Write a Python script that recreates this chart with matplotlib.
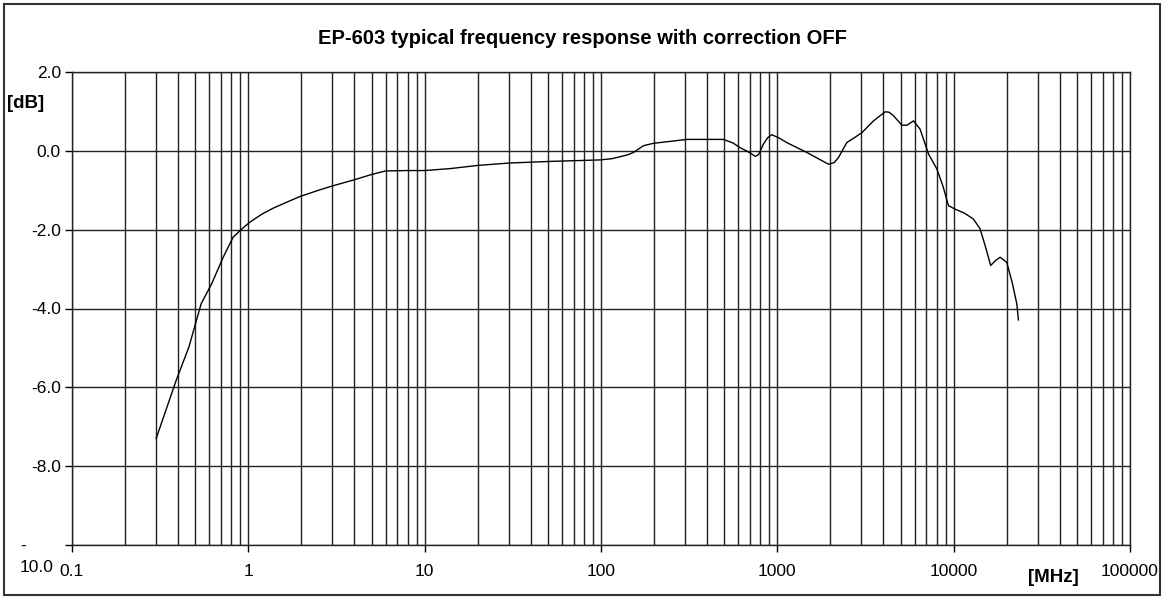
import matplotlib
matplotlib.use("Agg")
import matplotlib.pyplot as plt
from matplotlib.patches import Rectangle
from matplotlib.ticker import FixedLocator, LogLocator, NullFormatter

freq_mhz = [0.30, 0.39, 0.46, 0.54, 0.62, 0.72, 0.82, 0.92, 1.02, 1.2, 1.39, 1.6, 1.96,
            2.5, 3.0, 3.95, 5.0, 6.0, 8.0, 10, 14, 20, 30, 50, 99, 115, 128, 142, 153,
            165, 174, 198, 247, 306, 494, 560, 615, 700, 748, 781, 834, 880, 929, 1030,
            1130, 1468, 1950, 2100, 2222, 2478, 2750, 3015, 3510, 4090, 4300, 4560,
            5085, 5430, 5920, 6450, 7200, 8030, 8700, 9340, 10190, 11500, 12940, 14130,
            15300, 16200, 17300, 18350, 20000, 21500, 22800, 23300]
resp_db = [-7.30, -5.82, -4.98, -3.88, -3.37, -2.70, -2.19, -1.98, -1.81, -1.60, -1.45,
           -1.33, -1.16, -1.00, -0.89, -0.74, -0.60, -0.51, -0.50, -0.50, -0.45, -0.37,
           -0.31, -0.27, -0.23, -0.20, -0.15, -0.10, -0.04, 0.06, 0.13, 0.19, 0.24,
           0.29, 0.29, 0.20, 0.08, -0.05, -0.14, -0.10, 0.17, 0.33, 0.41, 0.32, 0.21,
           -0.04, -0.34, -0.30, -0.17, 0.21, 0.34, 0.46, 0.76, 0.99, 0.98, 0.89, 0.65,
           0.65, 0.76, 0.55, -0.08, -0.46, -0.90, -1.39, -1.48, -1.58, -1.73, -1.98,
           -2.50, -2.91, -2.78, -2.70, -2.83, -3.35, -3.88, -4.29]

x_ticks = [0.1, 1, 10, 100, 1000, 10000, 100000]
x_tick_labels = ["0.1", "1", "10", "100", "1000", "10000", "100000"]
y_ticks = [-10, -8, -6, -4, -2, 0, 2]
y_tick_labels = ["", "-8.0", "-6.0", "-4.0", "-2.0", "0.0", "2.0"]

plt.rcParams['font.family'] = ['Liberation Sans', 'DejaVu Sans']

W, H = 1164, 599
fig = plt.figure(figsize=(W / 100, H / 100), dpi=100)
ax = fig.add_axes([72 / W, 1 - 545 / H, (1130 - 72) / W, (545 - 72) / H])

ax.set_xscale('log')
ax.set_xlim(0.1, 100000)
ax.set_ylim(-10, 2)

ax.xaxis.set_major_locator(FixedLocator(x_ticks))
ax.set_xticklabels(x_tick_labels)
ax.xaxis.set_minor_locator(LogLocator(base=10, subs=range(2, 10), numticks=20))
ax.xaxis.set_minor_formatter(NullFormatter())
ax.set_yticks(y_ticks)
ax.set_yticklabels(y_tick_labels)

grid_col = '#222222'
ax.grid(True, which='major', axis='both', color=grid_col, lw=1.0)
ax.grid(True, which='minor', axis='x', color=grid_col, lw=1.0)
ax.tick_params(axis='x', which='major', direction='out', length=5, width=1, labelsize=12.5, pad=9)
ax.tick_params(axis='x', which='minor', length=0)
ax.tick_params(axis='y', direction='out', length=5, width=1, labelsize=12.5, pad=3)
for s in ax.spines.values():
    s.set_color(grid_col)
    s.set_linewidth(1.0)

ax.plot(freq_mhz, resp_db, color='black', lw=1.0, zorder=5)

fig.text(0.5, 1 - 38 / H, "EP-603 typical frequency response with correction OFF",
         ha='center', va='center', fontsize=14.5, fontweight='bold')
fig.text(7 / W, 1 - 103 / H, "[dB]", ha='left', va='center', fontsize=13.5, fontweight='bold')
fig.text(1053 / W, 1 - 577 / H, "[MHz]", ha='center', va='center', fontsize=13.5, fontweight='bold')
fig.text(20 / W, 1 - 546 / H, "-", ha='left', va='center', fontsize=12.5)
fig.text(20 / W, 1 - 567 / H, "10.0", ha='left', va='center', fontsize=12.5)

fig.patches.append(Rectangle((4 / W, 4 / H), 1 - 8 / W, 1 - 8 / H, transform=fig.transFigure,
                             fill=False, edgecolor='#333333', lw=1.5))

fig.savefig("out.png", dpi=100)
